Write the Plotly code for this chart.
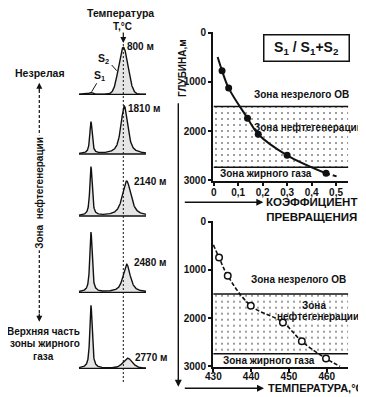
import numpy as np
import plotly.graph_objects as go

W, H = 366, 397
OFF = 8                     # page body margin of the html document
FW, FH = W - OFF, H - OFF   # figure size

# ---------------- DATA ----------------
# left: pyrolysis (Rock-Eval) traces for five depths
depth_labels = ["800 м", "1810 м", "2140 м", "2480 м", "2770 м"]
s1_peak = [2, 32, 49, 60, 63]          # S1 peak intensity (rel.)
s2_peak = [47, 48, 35, 28, 10]         # S2 peak intensity (rel.)
s2_shift = [0, 1, 3.4, 3.4, 4.4]       # S2 maximum shift vs. reference T
s2_halfwidth = [5.5, 4.0, 5.0, 4.2, 5.5]
s2_lorentz = [0.0, 0.7, 0.75, 0.75, 0.3]

# top right: conversion coefficient S1/(S1+S2) vs depth
coef_pts = [0.034, 0.061, 0.138, 0.182, 0.300, 0.459]
coef_depth = [771, 1125, 1738, 2066, 2495, 2863]
coef_curve_x = [0.016] + coef_pts
coef_curve_y = [491] + coef_depth
coef_tail_x = [0.459, 0.506]
coef_tail_y = [2863, 2932]
coef_ticks = [0, 0.1, 0.2, 0.3, 0.4, 0.5]
coef_ticktext = ["0", "0,1", "0,2", "0,3", "0,4", "0,5"]

# bottom right: Tmax vs depth
tmax_pts = [431.5, 433.8, 439.9, 448.4, 453.4, 459.8]
tmax_depth = [745, 1123, 1744, 2090, 2483, 2841]
tmax_curve_x = [430.0] + tmax_pts + [463.5]
tmax_curve_y = [482] + tmax_depth + [3000]
tmax_ticks = [430, 440, 450, 460]

depth_ticks = [0, 1000, 2000, 3000]
zone_top, zone_bottom = 1500, 2740

# ---------------- LAYOUT CONSTANTS ----------------
FONT = "Liberation Sans, Arial, sans-serif"
INK = "#111111"
panel_base = [94.3, 154, 216, 292.3, 368.3]   # baseline pixel rows of the five traces
x_left, x_right = 79, 146
x_s1, x_tref = 91, 123.3


def P(x):
    return (x - OFF) / FW


def Q(y):
    return 1 - (y - OFF) / FH


def peak(x, x0, h, hw, eta):
    u = (x - x0) / hw
    return h * (eta / (1 + u ** 2) + (1 - eta) * np.exp(-np.log(2) * u ** 2))


fig = go.Figure()

# ---- left panel traces ----
xs = np.linspace(x_left, x_right, 500)
for i, b in enumerate(panel_base):
    s1w = 2.0 if i == 0 else 1.4
    f = peak(xs, x_s1, s1_peak[i], s1w, 0.8) + peak(
        xs, x_tref + s2_shift[i], s2_peak[i], s2_halfwidth[i], s2_lorentz[i])
    fig.add_trace(go.Scatter(x=[x_left, x_right], y=[b, b], mode="lines",
                             line=dict(color=INK, width=1.3), xaxis="x3", yaxis="y3",
                             showlegend=False, hoverinfo="skip"))
    fig.add_trace(go.Scatter(x=xs, y=b - f, mode="lines", fill="tonexty",
                             fillcolor="rgba(0,0,0,0.10)",
                             line=dict(color=INK, width=1.4), xaxis="x3", yaxis="y3",
                             showlegend=False, hoverinfo="skip"))

DOTS = dict(shape=".", size=6, solidity=0.09, fgcolor="#000", bgcolor="rgba(0,0,0,0)")

# ---- top right ----
cx_max = 0.55
fig.add_trace(go.Scatter(x=[0, cx_max, cx_max, 0], y=[zone_top, zone_top, zone_bottom, zone_bottom],
                         fill="toself", mode="none", fillcolor="rgba(0,0,0,0)", fillpattern=DOTS,
                         xaxis="x", yaxis="y", showlegend=False, hoverinfo="skip"))
for z in (zone_top, zone_bottom):
    fig.add_trace(go.Scatter(x=[0, cx_max], y=[z, z], mode="lines", line=dict(color=INK, width=1.5),
                             xaxis="x", yaxis="y", showlegend=False, hoverinfo="skip"))
fig.add_trace(go.Scatter(x=coef_curve_x, y=coef_curve_y, mode="lines",
                         line=dict(color=INK, width=2, shape="spline"),
                         xaxis="x", yaxis="y", showlegend=False))
fig.add_trace(go.Scatter(x=coef_tail_x, y=coef_tail_y, mode="lines",
                         line=dict(color=INK, width=2, dash="4px,3px"),
                         xaxis="x", yaxis="y", showlegend=False))
fig.add_trace(go.Scatter(x=coef_pts, y=coef_depth, mode="markers",
                         marker=dict(color=INK, size=7),
                         xaxis="x", yaxis="y", showlegend=False))

# ---- bottom right ----
tx_max = 465.7
fig.add_trace(go.Scatter(x=[430, tx_max, tx_max, 430], y=[zone_top, zone_top, zone_bottom, zone_bottom],
                         fill="toself", mode="none", fillcolor="rgba(0,0,0,0)", fillpattern=DOTS,
                         xaxis="x2", yaxis="y2", showlegend=False, hoverinfo="skip"))
for z in (zone_top, zone_bottom):
    fig.add_trace(go.Scatter(x=[430, tx_max], y=[z, z], mode="lines", line=dict(color=INK, width=1.5),
                             xaxis="x2", yaxis="y2", showlegend=False, hoverinfo="skip"))
fig.add_trace(go.Scatter(x=tmax_curve_x, y=tmax_curve_y, mode="lines",
                         line=dict(color=INK, width=1.6, dash="4px,2px", shape="spline"),
                         xaxis="x2", yaxis="y2", showlegend=False))
fig.add_trace(go.Scatter(x=tmax_pts, y=tmax_depth, mode="markers",
                         marker=dict(color="white", size=6.5, line=dict(color=INK, width=1.5)),
                         xaxis="x2", yaxis="y2", showlegend=False))

axis_common = dict(showgrid=False, zeroline=False, showline=True, linecolor=INK, linewidth=2,
                   ticks="outside", ticklen=3, tickwidth=1.5, tickcolor=INK, automargin=False,
                   tickfont=dict(family=FONT, size=10, color=INK, weight="bold"))

fig.update_layout(
    width=FW, height=FH, margin=dict(l=0, r=0, t=0, b=0, pad=0, autoexpand=False),
    paper_bgcolor="white", plot_bgcolor="rgba(0,0,0,0)",
    xaxis=dict(domain=[P(213), P(348.3)], range=[-0.003, cx_max], anchor="y",
               tickvals=coef_ticks, ticktext=coef_ticktext, ticklabelstandoff=-2, **axis_common),
    yaxis=dict(domain=[Q(181), Q(32)], range=[3020, -20], anchor="x",
               tickvals=depth_ticks, **axis_common),
    xaxis2=dict(domain=[P(213), P(348.3)], range=[429.9, tx_max], anchor="y2",
                tickvals=tmax_ticks, ticklabelstandoff=-4, **axis_common),
    yaxis2=dict(domain=[Q(367.2), Q(220.7)], range=[3020, -20], anchor="x2",
                tickvals=depth_ticks, **axis_common),
    xaxis3=dict(domain=[0, P(183)], range=[OFF, 183], visible=False, anchor="y3", automargin=False),
    yaxis3=dict(domain=[0, 1], range=[H, OFF], visible=False, anchor="x3", automargin=False),
)

annotations = []
shapes = []


def txt(text, x, y, size=10, xanchor="center", angle=0, bold=True, **kw):
    annotations.append(dict(text=text, x=P(x), y=Q(y), xref="paper", yref="paper",
                            showarrow=False, xanchor=xanchor, yanchor="middle",
                            textangle=angle,
                            font=dict(family=FONT, size=size, color=INK,
                                      weight="bold" if bold else "normal"), **kw))


def arrow(x0, y0, x1, y1, head=2, side="end", width=1.5):
    annotations.append(dict(text="", x=P(x1), y=Q(y1), xref="paper", yref="paper",
                            ax=x0 - x1, ay=y0 - y1, axref="pixel", ayref="pixel",
                            showarrow=True, arrowhead=head, arrowsize=1, arrowwidth=width,
                            arrowcolor=INK, arrowside=side))


def line(x0, y0, x1, y1, width=1.2, dash="solid"):
    shapes.append(dict(type="line", xref="paper", yref="paper", x0=P(x0), y0=Q(y0),
                       x1=P(x1), y1=Q(y1), line=dict(color=INK, width=width, dash=dash)))


# left panel decorations
txt("Температура", 120, 13, 10.5)
txt("T,°C", 122, 26, 10)
arrow(123.3, 31, 123.3, 43, head=2, width=1.2)
line(123.3, 44, 123.3, 383, width=1, dash="2px,2px")
txt("S<sub>2</sub>", 103, 59, 10.5)
txt("S<sub>1</sub>", 99, 76, 10.5)
line(111.7, 65, 116.7, 70.7, width=1)
line(96.7, 83.3, 91.7, 91.7, width=1)
label_pos = [(125, 46.7), (126, 108), (131.5, 181.7), (131.7, 262.3), (132.7, 357.3)]
for lab, (lx, ly) in zip(depth_labels, label_pos):
    txt(lab, lx, ly, 10, xanchor="left")

txt("Незрелая", 40, 72.7, 10.5)
line(39.3, 90, 39.3, 316, width=1.2, dash="3px,2px")
arrow(39.3, 92, 39.3, 82.7, head=2, width=1.2)
arrow(39.3, 312, 39.3, 321.7, head=2, width=1.2)
txt("Зона&nbsp;&nbsp;нефтегенерации", 39.3, 192.5, 10, angle=-90, bgcolor="white")
txt("Верхняя часть", 43.7, 331.7, 10)
txt("зоны жирного", 45, 343.3, 10)
txt("газа", 43, 356, 10)

# depth axis label and arrow
txt("ГЛУБИНА,м", 182.7, 68.3, 10, angle=-90)
arrow(178.3, 101.7, 178.3, 386.7, head=2, width=1.4)

# top right texts
annotations.append(dict(text="S<sub>1</sub> / S<sub>1</sub>+S<sub>2</sub>", x=P(306.7), y=Q(48),
                        xref="paper", yref="paper", showarrow=False,
                        xanchor="center", yanchor="middle",
                        font=dict(family=FONT, size=14, color=INK, weight="bold"),
                        bordercolor=INK, borderwidth=1.5, borderpad=3, bgcolor="white",
                        width=78, height=19))
txt("Зона незрелого ОВ", 301, 94.3, 10)
txt("Зона нефтегенерации", 308, 127.3, 10)
txt("Зона жирного газа", 266, 173.3, 10)
arrow(183.3, 202.3, 263.3, 202.3, head=2, width=1.4)
txt("КОЭФФИЦИЕНТ<br>ПРЕВРАЩЕНИЯ", 311.5, 209, 11.5)

# bottom right texts
txt("Зона незрелого ОВ", 298.5, 279.3, 10)
txt("Зона", 314, 305.7, 10)
txt("нефтегенерации", 318, 316, 10)
txt("Зона жирного газа", 269, 360.7, 10)
arrow(183.3, 388.3, 264, 388.3, head=2, width=1.4)
txt("ТЕМПЕРАТУРА,°C", 315.5, 388.3, 11)

fig.update_layout(annotations=annotations, shapes=shapes)
fig.write_html("out.html")
